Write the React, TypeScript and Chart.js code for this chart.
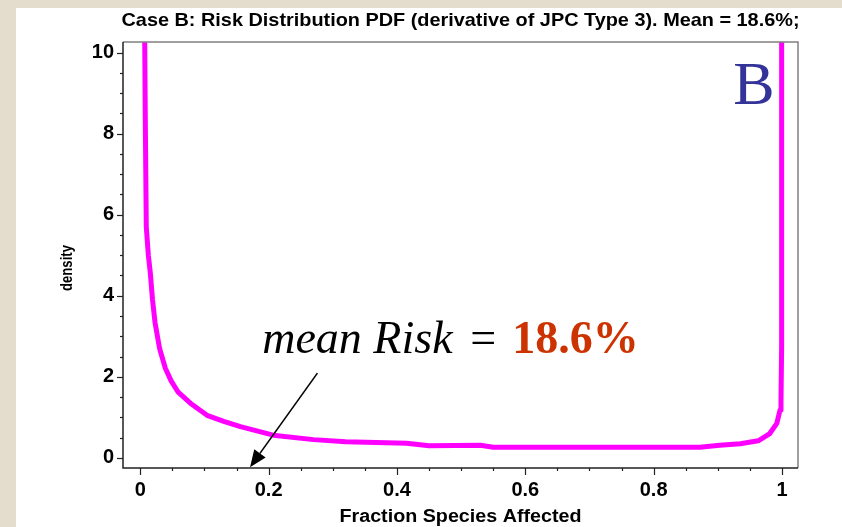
import React, { useEffect, useRef } from "react";
import { Chart, registerables } from "chart.js";

Chart.register(...registerables);

// ---- Data ----
const fractionValues = [
  0.0067, 0.0078, 0.0093, 0.0125, 0.0156, 0.019, 0.023, 0.03, 0.039, 0.048, 0.059, 0.078,
  0.104, 0.13, 0.156, 0.207, 0.27, 0.32, 0.415, 0.45, 0.53, 0.55, 0.7, 0.872, 0.903,
  0.935, 0.963, 0.981, 0.992, 0.997, 0.9985, 0.9995, 0.9995,
];
const densityValues = [
  10.6, 8.26, 5.7, 5.0, 4.56, 3.9, 3.33, 2.7, 2.21, 1.9, 1.62, 1.35,
  1.05, 0.9, 0.77, 0.56, 0.45, 0.4, 0.36, 0.3, 0.31, 0.26, 0.26, 0.26, 0.31,
  0.35, 0.42, 0.6, 0.85, 1.18, 1.42, 2.74, 10.6,
];
const xTickValues = [0, 0.2, 0.4, 0.6, 0.8, 1];
const xTickLabels = ["0", "0.2", "0.4", "0.6", "0.8", "1"];
const yTickValues = [0, 2, 4, 6, 8, 10];
const yTickLabels = ["0", "2", "4", "6", "8", "10"];
const xMinorStep = 0.05;
const yMinorStep = 0.5;
const xRange = [-0.027, 1.025];
const yRange = [-0.25, 10.26];

const titleText = "Case B: Risk Distribution PDF (derivative of JPC Type 3). Mean = 18.6%;";
const xAxisTitle = "Fraction Species Affected";
const yAxisTitle = "density";
const panelLetter = "B";
const meanLabelPrefix = "mean Risk";
const meanLabelEq = "=";
const meanLabelValue = "18.6%";
// annotation anchors in data coordinates
const meanLabelAnchor = { x: 0.19, y: 2.58 };
const arrowFrom = { x: 0.276, y: 2.09 };
const arrowTo = { x: 0.171, y: -0.23 };
const letterAnchor = { x: 0.924, y: 8.73 };

const W = 842;
const H = 527;

function drawFitted(
  ctx: CanvasRenderingContext2D,
  text: string,
  cx: number,
  cy: number,
  font: string,
  targetWidth: number,
  rotate = 0
) {
  ctx.save();
  ctx.font = font;
  const w = ctx.measureText(text).width;
  const s = targetWidth / w;
  ctx.translate(cx, cy);
  ctx.rotate(rotate);
  ctx.scale(s, 1);
  ctx.textAlign = "center";
  ctx.textBaseline = "middle";
  ctx.fillStyle = "#000";
  ctx.fillText(text, 0, 0);
  ctx.restore();
}

const decorPlugin = {
  id: "decor",
  beforeDraw(chart: any) {
    const ctx = chart.ctx as CanvasRenderingContext2D;
    ctx.save();
    ctx.fillStyle = "#e4dccc";
    ctx.fillRect(0, 0, W, H);
    ctx.fillStyle = "#ffffff";
    ctx.fillRect(16, 8, W - 16, H - 8);
    ctx.restore();
  },
  afterDraw(chart: any) {
    const ctx = chart.ctx as CanvasRenderingContext2D;
    const { left, right, top, bottom } = chart.chartArea;
    const xs = chart.scales.x;
    const ys = chart.scales.y;
    ctx.save();
    // frame: top/right grey, left/bottom dark
    ctx.strokeStyle = "#808080";
    ctx.lineWidth = 1.5;
    ctx.beginPath();
    ctx.moveTo(left, top);
    ctx.lineTo(right, top);
    ctx.lineTo(right, bottom);
    ctx.stroke();
    ctx.strokeStyle = "#222";
    ctx.beginPath();
    ctx.moveTo(left, top);
    ctx.lineTo(left, bottom);
    ctx.lineTo(right, bottom);
    ctx.stroke();

    // tick marks
    ctx.lineWidth = 1.2;
    ctx.strokeStyle = "#222";
    for (let i = 0; i <= Math.round(1 / xMinorStep); i++) {
      const v = i * xMinorStep;
      const major = xTickValues.some((t) => Math.abs(t - v) < 1e-9);
      const px = Math.round(xs.getPixelForValue(v)) + 0.5;
      ctx.beginPath();
      ctx.moveTo(px, bottom);
      ctx.lineTo(px, bottom + (major ? 7 : 3));
      ctx.stroke();
    }
    for (let i = 0; i <= Math.round(10 / yMinorStep); i++) {
      const v = i * yMinorStep;
      const major = yTickValues.some((t) => Math.abs(t - v) < 1e-9);
      const py = Math.round(ys.getPixelForValue(v)) + 0.5;
      ctx.beginPath();
      ctx.moveTo(left, py);
      ctx.lineTo(left - (major ? 6 : 3), py);
      ctx.stroke();
    }

    // titles
    drawFitted(ctx, titleText, (left + right) / 2, 21, "bold 19px 'Liberation Sans', Arial, sans-serif", 678);
    drawFitted(ctx, xAxisTitle, (left + right) / 2, 517, "bold 18px 'Liberation Sans', Arial, sans-serif", 242);
    drawFitted(ctx, yAxisTitle, 68, 268, "bold 16px 'Liberation Sans', Arial, sans-serif", 46, -Math.PI / 2);

    // panel letter
    ctx.font = "62px 'Liberation Serif', 'Times New Roman', serif";
    ctx.fillStyle = "#333399";
    ctx.textAlign = "left";
    ctx.textBaseline = "alphabetic";
    ctx.fillText(panelLetter, xs.getPixelForValue(letterAnchor.x), ys.getPixelForValue(letterAnchor.y));

    // mean risk label
    const tx = xs.getPixelForValue(meanLabelAnchor.x);
    const ty = ys.getPixelForValue(meanLabelAnchor.y);
    ctx.fillStyle = "#000";
    ctx.font = "italic 46px 'Liberation Serif', 'Times New Roman', serif";
    ctx.fillText(meanLabelPrefix, tx, ty);
    ctx.font = "46px 'Liberation Serif', 'Times New Roman', serif";
    ctx.fillText(meanLabelEq, tx + 208, ty);
    ctx.font = "bold 46px 'Liberation Serif', 'Times New Roman', serif";
    ctx.fillStyle = "#cc3300";
    ctx.fillText(meanLabelValue, tx + 250, ty);

    // arrow
    const x1 = xs.getPixelForValue(arrowFrom.x);
    const y1 = ys.getPixelForValue(arrowFrom.y);
    const x2 = xs.getPixelForValue(arrowTo.x);
    const y2 = ys.getPixelForValue(arrowTo.y);
    const ang = Math.atan2(y2 - y1, x2 - x1);
    const headLen = 17;
    const headHalf = 7;
    const bx = x2 - headLen * Math.cos(ang);
    const by = y2 - headLen * Math.sin(ang);
    ctx.strokeStyle = "#000";
    ctx.lineWidth = 1.6;
    ctx.beginPath();
    ctx.moveTo(x1, y1);
    ctx.lineTo(bx, by);
    ctx.stroke();
    ctx.fillStyle = "#000";
    ctx.beginPath();
    ctx.moveTo(x2, y2);
    ctx.lineTo(bx + headHalf * Math.sin(ang), by - headHalf * Math.cos(ang));
    ctx.lineTo(bx - headHalf * Math.sin(ang), by + headHalf * Math.cos(ang));
    ctx.closePath();
    ctx.fill();
    ctx.restore();
  },
};

export default function App() {
  const canvasRef = useRef<HTMLCanvasElement | null>(null);

  useEffect(() => {
    if (!canvasRef.current) return;
    const points = fractionValues.map((x, i) => ({ x, y: densityValues[i] }));
    const tickFont = { family: "'Liberation Sans', Arial, sans-serif", size: 20, weight: "bold" as const };
    const chart = new Chart(canvasRef.current, {
      type: "scatter",
      data: {
        datasets: [
          {
            data: points,
            showLine: true,
            borderColor: "#ff00ff",
            backgroundColor: "#ff00ff",
            borderWidth: 5,
            pointRadius: 0,
            tension: 0,
            clip: 0,
            borderJoinStyle: "round",
          } as any,
        ],
      },
      options: {
        animation: false,
        responsive: false,
        devicePixelRatio: 1,
        layout: { padding: { top: 42, right: 44, left: 0, bottom: 0 } },
        plugins: { legend: { display: false }, tooltip: { enabled: false }, title: { display: false } },
        scales: {
          x: {
            type: "linear",
            min: xRange[0],
            max: xRange[1],
            grid: { display: false, drawTicks: false },
            border: { display: false },
            afterBuildTicks: (scale: any) => {
              scale.ticks = xTickValues.map((v) => ({ value: v }));
            },
            afterFit: (scale: any) => {
              scale.height = H - 468;
            },
            ticks: {
              padding: 10,
              color: "#000",
              font: tickFont,
              maxRotation: 0,
              autoSkip: false,
              callback: (v: any) => {
                const idx = xTickValues.findIndex((t) => Math.abs(t - Number(v)) < 1e-9);
                return idx >= 0 ? xTickLabels[idx] : "";
              },
            },
          },
          y: {
            type: "linear",
            min: yRange[0],
            max: yRange[1],
            grid: { display: false, drawTicks: false },
            border: { display: false },
            afterBuildTicks: (scale: any) => {
              scale.ticks = yTickValues.map((v) => ({ value: v }));
            },
            afterFit: (scale: any) => {
              scale.width = 123;
            },
            ticks: {
              padding: 9,
              color: "#000",
              font: tickFont,
              autoSkip: false,
              callback: (v: any) => {
                const idx = yTickValues.findIndex((t) => Math.abs(t - Number(v)) < 1e-9);
                return idx >= 0 ? yTickLabels[idx] : "";
              },
            },
          },
        },
      },
      plugins: [decorPlugin],
    });
    return () => chart.destroy();
  }, []);

  return (
    <div style={{ position: "fixed", left: 0, top: 0, width: W, height: H }}>
      <canvas ref={canvasRef} width={W} height={H} style={{ width: W, height: H, display: "block" }} />
    </div>
  );
}
